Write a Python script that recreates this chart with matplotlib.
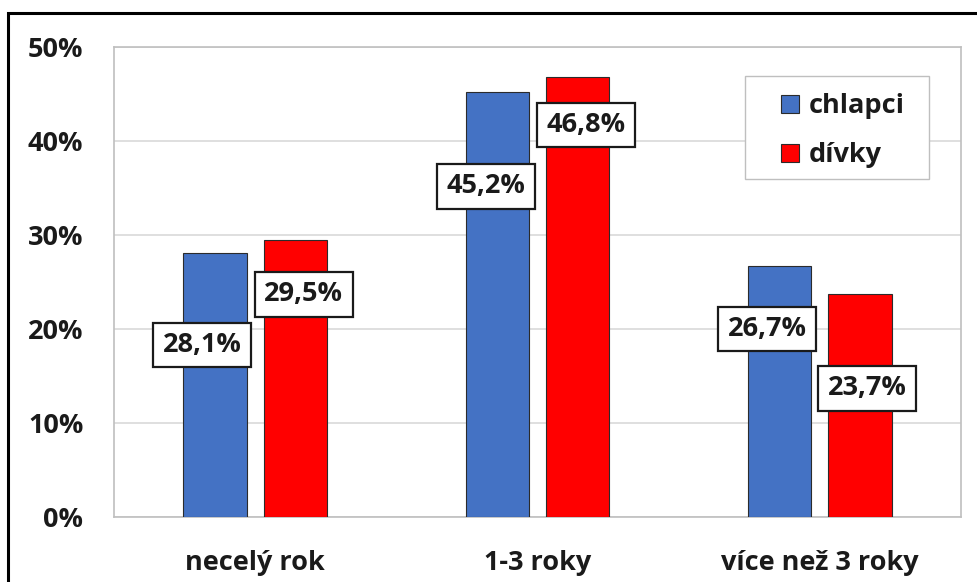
import numpy as np
import matplotlib
matplotlib.use('Agg')
import matplotlib.pyplot as plt
from matplotlib.patches import Rectangle

# ── Data ──────────────────────────────────────────────────────────────────────
categories = ['necelý rok', '1-3 roky', 'více než 3 roky']
series_names = ['chlapci', 'dívky']
chlapci = [28.1, 45.2, 26.7]
divky = [29.5, 46.8, 23.7]
yticks = [0, 10, 20, 30, 40, 50]

# ── Figure ────────────────────────────────────────────────────────────────────
plt.rcParams['font.family'] = ['Open Sans', 'DejaVu Sans']
W, H = 978, 582
fig = plt.figure(figsize=(W / 100, H / 100), dpi=100)
ax = fig.add_axes([114 / W, 1 - 517 / H, (961 - 114) / W, (517 - 47) / H])

x = np.arange(len(categories))
bw = 0.224
off = 0.142
colors = ['#4472C4', '#FF0000']
ax.bar(x - off, chlapci, bw, color=colors[0], edgecolor='#2b2b2b',
       linewidth=0.8, label=series_names[0], zorder=3)
ax.bar(x + off, divky, bw, color=colors[1], edgecolor='#2b2b2b',
       linewidth=0.8, label=series_names[1], zorder=3)

txt = '#1a1a1a'
fs = 19.5
ax.set_xlim(-0.5, len(categories) - 0.5)
ax.set_ylim(0, 50)
ax.set_yticks(yticks)
ax.set_yticklabels([f'{t}%' for t in yticks], fontsize=fs, fontweight='bold',
                   color=txt)
ax.set_xticks(x)
ax.set_xticklabels(categories, fontsize=fs, fontweight='bold', color=txt)
ax.tick_params(axis='both', length=0)
ax.tick_params(axis='y', pad=22)
ax.tick_params(axis='x', pad=24)
ax.yaxis.grid(True, color='#d9d9d9', linewidth=1.2, zorder=0)
for s in ax.spines.values():
    s.set_color('#bfbfbf')
    s.set_linewidth(1.2)

# data labels (Excel-style boxes, shifted manually in the original)
label_drop_c = [9.8, 10.0, 6.7]
label_drop_d = [5.8, 5.1, 10.0]
label_dx_c = [-0.045, -0.04, -0.045]
label_dx_d = [0.03, 0.03, 0.025]
box = dict(boxstyle='square,pad=0.35', facecolor='white', edgecolor=txt,
           linewidth=1.6)
for i in range(len(categories)):
    ax.text(x[i] - off + label_dx_c[i], chlapci[i] - label_drop_c[i],
            f'{chlapci[i]:.1f}%'.replace('.', ','), ha='center', va='center',
            fontsize=fs, fontweight='bold', color=txt, bbox=box, zorder=5)
    ax.text(x[i] + off + label_dx_d[i], divky[i] - label_drop_d[i],
            f'{divky[i]:.1f}%'.replace('.', ','), ha='center', va='center',
            fontsize=fs, fontweight='bold', color=txt, bbox=box, zorder=5)

# legend: entries without frame, frame drawn as its own box
ax.add_patch(Rectangle((0.745, 0.719), 0.217, 0.219, transform=ax.transAxes,
                       facecolor='white', edgecolor='#bfbfbf', linewidth=1.0,
                       zorder=6))
leg = ax.legend(loc='upper left', bbox_to_anchor=(0.788, 0.902),
                prop={'weight': 'bold', 'size': fs}, frameon=False,
                handlelength=0.65, handleheight=0.65, handletextpad=0.35,
                labelspacing=0.86, borderpad=0, borderaxespad=0)
for t in leg.get_texts():
    t.set_color(txt)
leg.set_zorder(7)

# outer chart border (only top and left are visible in the crop)
fig.patches.append(Rectangle((8 / W, -0.2), 1.5, 1.2 - 13 / H,
                             transform=fig.transFigure, fill=False,
                             edgecolor='black', linewidth=2.2))

fig.savefig('out.png', dpi=100, facecolor='white')
